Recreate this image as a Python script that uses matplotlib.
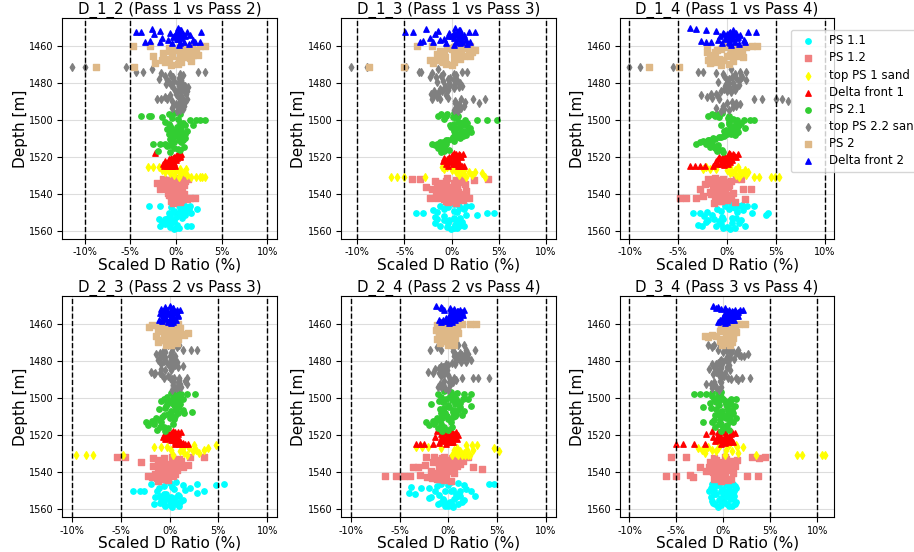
import matplotlib
matplotlib.use('Agg')
import matplotlib.pyplot as plt
from matplotlib.ticker import FuncFormatter

# Panels: pass pairs compared
pairs = ['D_1_2', 'D_1_3', 'D_1_4', 'D_2_3', 'D_2_4', 'D_3_4']
titles = ['D_1_2 (Pass 1 vs Pass 2)', 'D_1_3 (Pass 1 vs Pass 3)',
          'D_1_4 (Pass 1 vs Pass 4)', 'D_2_3 (Pass 2 vs Pass 3)',
          'D_2_4 (Pass 2 vs Pass 4)', 'D_3_4 (Pass 3 vs Pass 4)']

# ---- PS 1.1 ----
ps11_depth = [1545.6, 1546.4, 1546.4, 1546.4, 1547.2, 1548.0, 1548.8, 1549.6,
              1550.4, 1550.4, 1550.4, 1550.4, 1551.2, 1552.0, 1552.8, 1553.6,
              1553.6, 1554.4, 1555.2, 1556.0, 1556.8, 1557.3, 1557.3, 1557.3,
              1558.0, 1558.6, 1559.0,
              1546.0, 1546.8, 1547.6, 1548.4, 1549.2, 1550.0, 1551.6, 1552.4,
              1553.2, 1554.0, 1554.8, 1555.6, 1556.4, 1558.3]
ps11_ratio = {
    'D_1_2': [0.8, -3.0, -1.8, 1.5, -0.5, 2.3, 0.9, -0.3, -0.8, 0.2, 1.0, 1.6, 0.4,
              -0.6, 0.7, -1.9, -1.2, -0.4, -1.5, -0.9, 0.1, -1.7, 1.2, 1.7, -0.6, 0.3, -0.2,
              0.3, 1.0, 0.5, 1.4, -0.2, 0.6, 1.0, 0.0, -0.9, -0.8, -0.2, -0.5, -1.2, 0.0],
    'D_1_3': [0.2, -1.2, 0.8, 2.1, -0.4, 1.3, -2.0, 0.6, -3.8, -3.0, 3.7, 4.5, 2.7,
              -0.8, 0.9, -1.5, 0.3, -0.3, 1.1, -1.8, 0.4, -1.2, 0.8, 1.3, -0.5, 0.2, -0.1,
              -0.5, 1.5, 0.9, -0.8, 0.2, -1.6, 1.5, -1.8, 0.2, -0.8, 0.6, -0.4, 1.0, 0.6],
    'D_1_4': [0.4, -0.2, 1.2, 2.8, 0.6, -1.0, 1.6, -2.1, -3.5, -2.8, 2.5, 4.2, 4.0,
              -2.4, 0.9, -1.3, -0.4, 1.4, -2.2, 0.5, -3.0, -2.6, -1.1, 1.8, 0.0, -0.4, 0.3,
              1.5, 2.0, 0.8, 0.2, -0.6, 1.0, -1.5, -0.5, 0.5, -2.0, -0.8, 1.2, -0.6, 0.8],
    'D_2_3': [0.7, -1.9, 2.8, 5.6, 4.8, 0.3, -1.1, 1.6, -3.7, -3.0, -2.6, 3.5, 2.8,
              -0.6, 1.0, -1.5, 0.2, -0.4, 1.4, 0.5, -1.0, -1.6, -0.6, 0.8, 0.0, 1.0, 0.3,
              0.0, 1.4, -0.6, 2.1, 0.5, -1.3, -0.4, 0.9, -1.0, 0.6, -0.9, 0.0, 1.1, -0.5],
    'D_2_4': [0.3, -0.8, 4.2, 4.7, 1.6, -3.8, -2.8, 0.5, -1.4, 2.3, -0.3, 1.2, -4.0,
              -3.4, 2.7, -1.8, 0.8, -0.5, 1.6, 0.2, -0.9, -1.1, 0.0, 1.0, 0.4, -0.3, 0.5,
              1.0, 0.0, -1.2, -2.0, 1.8, 0.3, 0.8, -1.0, 1.2, -2.0, 0.6, -0.4, 1.4, 0.0],
    'D_3_4': [-0.4, -1.2, 0.3, 1.0, -0.7, 0.6, 1.3, -1.0, -1.5, -0.3, 0.5, 1.1, 0.0,
              -0.8, 0.8, -1.3, 0.2, 1.0, -0.5, 1.4, -1.1, -0.9, 0.4, 1.2, -0.2, 0.6, -0.6,
              0.5, -0.5, 1.2, -1.3, 0.0, 0.8, -1.0, 0.5, 1.1, -0.3, 0.7, -1.2, 0.1, 0.9],
}

# ---- PS 1.2 ----
ps12_depth = [1531.6, 1531.9, 1531.9, 1531.9, 1531.9, 1532.6, 1533.3, 1534.0,
              1534.7, 1535.4, 1536.1, 1536.8, 1537.4, 1537.4, 1537.4, 1538.2,
              1538.9, 1539.6, 1540.3, 1541.0, 1541.6, 1542.2, 1542.2, 1542.2,
              1542.2, 1542.9, 1543.6, 1544.3, 1545.0,
              1532.3, 1533.0, 1533.6, 1534.3, 1535.0, 1535.8, 1536.5, 1538.6,
              1539.2, 1540.0, 1540.6, 1541.3, 1543.2, 1544.0]
ps12_ratio = {
    'D_1_2': [0.5, -1.4, -0.3, 0.8, 1.3, -0.8, 0.2, -2.1, -1.6, 0.9, -0.6, 0.4, -1.8,
              -1.0, 0.1, -0.3, 0.7, -0.9, 0.2, -0.5, 0.8, -0.4, 0.6, 1.5, 2.1, 1.2, 0.0, 0.5, -0.3,
              -1.0, 1.0, -0.5, 0.4, -1.2, 0.2, -1.4, 0.3, -0.4, 0.9, -0.8, 0.5, 0.6, -0.5],
    'D_1_3': [-0.5, -4.2, -3.3, 1.1, 3.9, 2.4, -1.8, 0.3, 1.4, -0.9, -2.7, 0.6, -2.1,
              -1.3, -0.2, 1.5, 0.2, -0.6, 0.9, -1.2, 0.4, -2.3, -1.5, 1.1, 1.8, -0.8, 0.1, -0.4, 0.5,
              0.5, -0.6, 1.0, -1.2, 0.6, -1.6, -0.4, -0.9, 0.7, -0.3, 0.2, -1.7, 1.2, -0.6],
    'D_1_4': [-1.2, -2.0, -0.4, 0.9, 1.4, -1.6, 0.4, -0.9, -2.3, 0.2, -1.4, -0.6, -2.8,
              1.6, 2.4, -0.2, -1.8, 0.6, -1.0, -2.5, -0.4, -4.8, -4.2, -3.2, 0.4, 1.8, -0.8, 0.8, -1.3,
              -0.8, -1.4, 0.0, -1.8, -0.5, -1.0, 0.1, -0.9, -0.2, -1.6, 0.3, -1.2, 0.0, -0.6],
    'D_2_3': [0.3, -5.4, -4.6, 2.1, 3.5, -1.7, 0.6, 1.2, -2.9, -0.8, 1.9, -1.7, -1.2,
              0.2, 1.4, -0.4, 0.8, -0.9, 0.1, -1.5, -0.3, -2.2, -1.1, 0.4, -0.6, -1.8, -0.9, -0.2, -1.2,
              -0.6, 1.0, -1.2, 0.5, 0.8, -0.3, -0.8, 0.5, 0.2, -1.1, -0.5, 0.6, -1.3, -0.4],
    'D_2_4': [-1.5, -2.3, -0.4, 1.2, 2.0, 0.4, -0.9, 1.5, -1.6, 0.2, -2.4, 0.9, -3.6,
              -3.1, 2.5, 3.5, -0.3, -1.8, 0.6, -0.8, -2.9, -6.5, -5.4, -4.5, -3.9, -2.2, -1.2, -0.4, 0.3,
              -0.6, 0.9, -0.3, 0.6, -1.0, 1.2, -0.2, -1.0, 0.4, -0.5, -1.4, -0.2, -1.7, -0.8],
    'D_3_4': [0.2, -5.6, -4.0, 3.0, 4.4, 3.8, -0.8, 0.9, -1.4, 0.5, -0.3, 1.2, -2.5,
              -1.5, 0.7, -0.6, 0.3, -1.9, 1.0, -0.4, -3.6, -6.1, -5.0, 2.5, 3.7, -3.2, -1.0, 0.5, -0.2,
              -1.0, 0.3, 1.5, -0.6, 0.2, 1.0, -1.2, 0.8, -0.5, -1.1, 0.2, -0.9, -0.2, 0.8],
}

# ---- top PS 1 sand ----
top1_depth = [1525.6, 1525.6, 1525.6, 1526.4, 1526.4, 1526.4, 1527.2, 1527.2,
              1527.2, 1528.0, 1528.0, 1528.0, 1528.8, 1528.8, 1529.6, 1529.6,
              1530.7, 1530.7, 1530.7, 1530.7, 1530.7, 1530.7]
top1_ratio = {
    'D_1_2': [-3.1, -2.5, -1.9, -0.4, 0.5, 1.1, -1.5, -0.8, 0.0, -1.2, 0.3, 0.9,
              -0.6, 0.6, -0.2, 1.2, 0.3, 1.7, 2.2, 2.6, 2.9, 3.2],
    'D_1_3': [-1.0, -0.5, 0.2, -0.8, 0.4, 1.0, 0.0, 0.7, 1.3, 0.5, 1.8, 2.5,
              1.2, 3.2, 0.8, 2.2, -6.4, -5.8, -5.1, -2.8, 3.5, 1.5],
    'D_1_4': [-2.2, 0.3, 1.1, -2.5, -1.8, -1.1, 0.0, 0.8, 1.8, 0.5, 1.3, 2.1,
              0.3, 1.5, 0.9, 1.9, 2.8, 3.3, 4.5, 4.9, 5.3, 1.2],
    'D_2_3': [1.2, 2.5, 4.8, -1.6, -0.9, -0.3, 1.4, 2.0, 3.9, 0.1, 2.7, 3.5,
              1.1, 2.4, 1.5, 3.0, -9.6, -8.6, -7.8, -4.8, 0.4, 1.8],
    'D_2_4': [1.8, 2.4, 2.9, -3.3, -2.7, -2.1, -0.7, 0.9, 4.7, 0.6, 1.9, 2.5,
              1.2, 5.2, 0.8, 1.6, 0.4, 1.0, 1.4, 2.0, 2.2, 1.7],
    'D_3_4': [-0.4, 0.6, 1.4, -1.6, 1.5, 2.1, -2.7, -1.9, -0.6, -2.3, -1.2, 0.3,
              -0.8, 0.9, -2.0, 1.6, 3.5, 7.8, 8.4, 10.5, 10.8, 0.2],
}

# ---- Delta front 1 ----
df1_depth = [1517.8, 1518.3, 1518.3, 1518.8, 1519.3, 1519.8, 1520.3, 1520.8,
             1520.8, 1521.3, 1521.8, 1522.3, 1522.3, 1522.8, 1523.3, 1523.8,
             1524.3, 1524.8, 1524.8, 1524.8, 1524.8, 1524.8,
             1518.5, 1519.0, 1519.6, 1520.6, 1521.6, 1522.6, 1523.6, 1524.0]
df1_ratio = {
    'D_1_2': [-2.3, 0.3, 0.6, 0.1, 0.5, -0.2, 0.4, -0.5, 0.1, -0.8, 0.0, -1.2,
              -0.4, -0.9, -0.2, -1.4, -0.8, -1.3, -1.0, -0.7, -0.4, -0.1,
              0.4, 0.2, 0.0, -0.3, -0.6, -0.6, -0.7, -1.1],
    'D_1_3': [0.3, 0.8, 1.2, 0.0, 0.6, -0.3, 1.0, -0.8, 0.4, -0.5, 0.2, -0.9,
              0.7, -0.2, 0.5, -0.6, 0.9, 0.7, 0.9, 1.1, 1.3, -0.4,
              0.5, 0.9, 0.2, 0.6, -0.2, 0.3, 0.1, 0.4],
    'D_1_4': [0.2, 0.6, 1.1, -0.3, 0.4, -0.8, 0.9, -0.5, 0.2, -0.9, 0.5, -1.1,
              -0.2, 0.3, -0.6, -1.0, -0.3, -3.8, -3.3, -2.8, -2.3, -1.4,
              0.3, 0.7, 0.1, -0.2, 0.0, -0.5, 0.1, -0.6],
    'D_2_3': [0.4, 0.9, 1.2, -0.2, 0.5, -0.6, 0.2, -0.7, 0.8, -0.3, 0.4, -0.5,
              0.9, 0.1, 1.1, 0.6, 1.4, 1.0, 1.3, 1.6, 1.9, 0.6,
              0.6, 0.1, 0.9, 0.4, 0.0, 0.5, 0.8, 1.0],
    'D_2_4': [-1.2, -0.4, 0.8, 0.3, -0.8, 1.0, 0.0, -1.4, 0.6, -0.2, 0.4, -0.7,
              0.9, 0.1, -0.5, 0.5, -1.0, -3.3, -2.9, -2.5, -1.6, -0.2,
              0.4, -0.2, 0.6, -0.6, 0.2, -0.3, 0.3, 0.0],
    'D_3_4': [-1.2, -0.6, 0.9, 1.2, -1.8, 0.3, -0.4, 0.6, -1.1, 0.1, -0.7, 0.8,
              -0.2, 0.4, -0.9, 1.0, 0.2, -5.0, -4.3, -3.1, -2.0, -0.3,
              0.2, -0.5, 0.8, -0.6, 0.5, -0.4, 0.0, 0.6],
}

# ---- PS 2.1 ----
ps21_depth = [1496.2, 1497.0, 1497.8, 1497.8, 1497.8, 1498.6, 1499.4, 1500.2,
              1500.2, 1500.2, 1500.2, 1501.0, 1501.8, 1502.6, 1503.4, 1504.2,
              1505.0, 1505.8, 1506.6, 1507.4, 1508.2, 1509.0, 1509.8, 1510.6,
              1511.4, 1512.2, 1513.0, 1513.0, 1513.0, 1513.8, 1514.6, 1515.4,
              1516.2, 1517.0, 1517.6,
              1496.6, 1499.0, 1501.4, 1502.2, 1503.0, 1503.8, 1504.6, 1505.4,
              1506.2, 1507.0, 1507.8, 1508.6, 1509.4, 1510.2, 1511.0, 1511.8,
              1514.2, 1515.8]
ps21_ratio = {
    'D_1_2': [-0.2, 0.5, -3.8, -3.0, -2.7, -1.5, 0.2, 1.5, 2.2, 2.6, 3.2, -1.2,
              0.8, 1.9, -0.6, 0.4, -1.0, 1.2, 0.0, -0.8, 0.7, -0.3, 1.0, 0.3,
              -0.5, 0.6, -2.5, -1.8, -1.2, -0.6, 0.9, -0.2, 0.4, -2.0, -0.6,
              -0.8, -0.4, 0.4, -0.8, 1.0, 0.1, -0.5, 0.6, -0.4, 0.5, 1.0, -0.1,
              0.4, -0.6, 0.8, -0.2, -1.0, 0.2],
    'D_1_3': [0.3, -1.1, -1.4, -0.6, 0.7, 0.1, -0.8, 1.4, 2.7, 3.8, 4.8, 0.8,
              1.6, -0.2, 0.9, 1.9, 0.3, 1.2, 2.1, 0.6, 1.5, 0.1, 0.9, -0.4,
              0.2, -1.2, -2.1, -1.5, -0.6, -1.8, -0.9, -1.4, -0.3, -0.8, -1.1,
              -0.5, 0.5, 1.1, 0.3, 1.4, -0.1, 0.7, 1.7, 0.2, 1.0, 0.4, 1.2,
              0.5, 0.0, -0.6, -0.9, -1.4, -0.7],
    'D_1_4': [-0.5, -1.5, -2.0, -1.2, 0.2, -0.8, 0.6, 1.0, 1.7, 2.3, 2.8, 0.2,
              1.4, -0.6, 0.8, 1.8, 0.4, -0.3, 1.1, 0.0, 0.8, -0.8, -1.4, -1.9,
              -2.5, -2.8, -3.2, -2.2, -1.5, -0.9, -1.8, -1.2, -0.5, -1.0, -0.4,
              -1.0, 0.1, 0.9, 0.2, 1.2, 0.4, 1.0, -0.1, 0.6, 0.9, 0.4, -0.3,
              -0.6, -1.2, -2.0, -2.2, -1.4, -0.9],
    'D_2_3': [0.8, 0.2, 1.2, 1.8, 2.6, 0.5, -0.3, -0.6, 0.4, 1.0, 1.4, 0.7,
              -0.9, 0.3, 1.1, -0.4, 0.9, -1.1, 0.6, 2.3, 1.5, -0.6, 0.2, -1.4,
              0.5, -1.8, -2.4, -1.6, -0.9, 0.4, -2.2, -1.0, -0.2, -1.3, -0.5,
              0.5, 1.0, 0.0, 0.9, -0.3, 0.5, 0.9, -0.5, 1.4, 0.1, 0.9, -0.2,
              0.6, -0.8, 0.0, -1.0, -1.6, -0.6],
    'D_2_4': [-0.4, 0.9, -1.1, 1.6, 2.3, 0.2, -0.7, -0.2, 0.8, 1.5, 2.0, 0.4,
              -1.0, 1.2, -1.8, 2.3, 0.1, -0.9, 1.0, 0.5, -0.3, 1.4, 0.7, -1.2,
              0.0, -1.6, -2.3, -1.4, 0.3, -0.8, -2.0, -0.4, -1.1, 0.0, -0.6,
              0.3, 0.6, 0.9, -0.5, 0.7, 0.0, 1.2, -0.4, 0.5, 1.6, -0.8, 0.8,
              -0.1, 0.5, -0.6, -0.9, -1.5, 0.4],
    'D_3_4': [-0.6, -1.2, -3.1, -2.5, -1.8, -0.6, -0.2, -1.0, 0.0, 0.8, 1.4, -0.5,
              0.6, -1.4, 0.3, 1.2, -2.2, -0.8, 0.5, -0.3, 1.0, -0.9, 0.2, 1.3,
              -0.4, 0.7, -2.2, -1.2, 1.0, -0.5, 0.4, -0.9, 0.0, 0.6, -0.2,
              -0.3, -1.2, 0.2, -0.8, 0.8, -0.5, 0.4, -1.3, 0.9, -0.1, 0.5, -0.5,
              0.7, -0.2, 0.3, -1.0, -0.2, 0.3],
}

# ---- top PS 2.2 sand ----
top22_depth = [1471.2, 1471.2, 1471.2, 1473.9, 1473.9, 1473.9, 1473.9, 1474.6,
               1475.4, 1476.2, 1477.0, 1477.8, 1478.6, 1479.4, 1480.2, 1481.0,
               1481.8, 1482.6, 1483.4, 1484.2, 1485.0, 1485.8, 1486.6, 1487.4,
               1488.2, 1488.9, 1488.9, 1488.9, 1488.9, 1488.9, 1489.8, 1490.6,
               1491.4, 1492.2, 1493.0, 1493.8, 1494.6, 1495.4,
               1472.6, 1475.0, 1475.8, 1476.6, 1477.4, 1478.2, 1479.0, 1479.8,
               1480.6, 1481.4, 1482.2, 1483.0, 1483.8, 1484.6, 1486.2, 1487.0,
               1490.2, 1491.0, 1492.6, 1494.2]
top22_ratio = {
    'D_1_2': [-11.4, -10.0, -5.5, -4.4, -3.6, 2.4, 3.2, -1.6, 0.4, -1.2, -0.3, -1.9,
              0.6, -0.8, 0.2, -0.5, 1.0, 0.4, -0.2, 0.9, 0.1, 1.1, -0.6, -1.2,
              0.3, -2.1, -1.6, -1.0, 0.8, 1.2, -0.4, 0.6, 0.0, 0.9, 0.3, -0.4, 0.5, 0.1,
              -2.6, -0.6, 0.8, -0.4, 0.3, -1.0, -0.2, 0.7, -1.1, 0.3, 1.3, 0.7,
              0.4, 1.2, 0.0, 0.6, 1.0, 0.3, -0.3, 0.8],
    'D_1_3': [-10.7, -9.0, -4.8, -3.5, -3.2, 1.1, 1.6, -2.1, 0.2, -1.1, -2.3, -0.4,
              0.6, -1.5, 0.9, -0.2, 1.1, 0.3, -0.8, -1.9, -1.3, -2.2, -0.6, -1.6,
              -0.4, -2.1, -1.2, 1.0, 2.3, 3.5, 0.4, 2.9, 0.8, 1.3, 0.5, 1.0, 0.2, 0.7,
              -1.4, -0.9, 0.5, -1.7, -0.2, 0.3, -0.9, -0.3, 0.4, -0.7, 0.8, -1.2,
              -0.4, -1.0, -1.5, -2.0, 1.4, 0.4, 0.9, 0.5],
    'D_1_4': [-10.0, -8.9, -5.5, -3.0, -2.5, 1.3, 1.9, -1.1, 0.8, -0.3, 1.5, 0.2,
              1.9, -0.9, 0.6, 1.2, -0.2, 0.9, 0.3, -0.6, 0.4, -1.1, -2.7, -2.1,
              -1.5, -0.8, 2.8, 3.6, 5.0, 5.6, 6.2, 0.9, 1.3, -0.4, 0.6, -1.1, 0.2, -0.6,
              0.4, -0.4, 1.4, 0.5, 0.9, 0.0, 1.2, 0.2, -0.1, 0.7, 0.2, -0.3,
              0.8, 0.0, -1.6, -0.9, 0.5, 0.0, 0.9, -0.3],
    'D_2_3': [-0.2, 0.5, 1.0, -0.6, 1.4, 2.2, 2.8, 0.3, -1.0, -1.4, 0.6, -0.5,
              0.2, -1.2, 0.8, -0.3, 0.4, 1.4, 0.9, -0.9, 0.2, -1.9, -1.5, -0.8,
              -0.2, -0.6, 0.0, 0.5, 1.0, 1.8, 0.3, 1.6, 0.9, 1.8, 0.4, 1.2, 0.7, 0.3,
              0.8, -0.5, 0.2, -0.8, 0.0, -1.0, 0.5, -0.6, 0.2, -0.9, 0.6, 0.0,
              0.3, -0.5, -1.0, -1.6, 1.0, 0.4, 1.1, 0.9],
    'D_2_4': [0.3, 1.0, 1.6, -1.9, -0.8, 1.8, 2.7, 0.5, 1.2, 2.0, 0.6, 1.6,
              0.9, 2.3, 1.3, 0.4, -0.2, -0.8, -0.3, -1.4, -0.6, -2.1, -1.0, 0.0,
              -0.7, 0.6, 1.4, 2.5, 3.0, 4.2, 0.2, -0.4, 0.5, -0.9, 0.2, -1.1, -0.3, 0.0,
              -1.2, 0.6, 1.8, 1.4, 0.9, 2.0, 1.3, 0.8, 1.8, 0.7, 0.0, -0.5,
              -1.0, -0.1, -1.6, -0.4, 0.8, 0.1, -0.5, -0.7],
    'D_3_4': [-1.6, -1.0, -0.4, -0.6, 0.3, 0.9, 1.6, 0.6, 1.3, 2.6, 1.9, 0.4,
              1.1, -0.2, 0.5, -0.6, -1.2, -0.3, 0.4, -1.5, 0.7, -0.8, 0.2, -0.5,
              0.1, 0.5, 1.4, 2.0, 2.8, -0.2, 0.8, -0.4, -1.0, -1.8, -0.9, -0.3, -1.2, -0.5,
              -1.2, 0.0, 0.8, 1.7, 2.2, 0.7, 0.3, -0.4, 0.0, -0.8, 0.6, -1.0,
              -0.2, -0.7, -0.3, -1.1, 1.6, -0.3, -1.3, -0.8],
}

# ---- PS 2 ----
ps2_depth = [1459.9, 1459.9, 1459.9, 1459.9, 1460.6, 1461.3, 1462.0, 1462.6,
             1463.2, 1463.8, 1464.4, 1465.0, 1465.6, 1466.2, 1466.8, 1467.4,
             1468.0, 1468.6, 1469.2, 1469.8, 1470.4, 1471.2, 1471.2,
             1460.3, 1461.0, 1461.7, 1462.3, 1463.5, 1464.7, 1465.3, 1466.5,
             1467.7, 1468.9]
ps2_ratio = {
    'D_1_2': [-4.7, -2.8, 2.6, 3.2, 1.8, 0.8, 2.2, -0.6, 1.4, -1.4, 0.5, 2.4,
              -2.5, 1.0, -0.8, 0.3, 1.6, -1.2, -2.3, 0.2, -0.5, -8.8, -4.6,
              0.4, -0.8, 1.2, 0.0, 0.8, 1.9, -0.4, 1.5, -1.5, 0.6],
    'D_1_3': [-3.7, -2.1, 0.8, 1.9, 1.2, -0.5, 2.5, -1.2, 0.6, 1.8, -1.6, 0.2,
              2.0, -0.7, 0.9, -2.3, -1.0, 0.3, -2.0, -0.6, 0.0, -8.8, -5.1,
              0.2, 1.6, 0.0, 1.0, 2.2, -0.8, 1.3, 0.4, -1.5, -0.9],
    'D_1_4': [-2.1, -0.4, 2.6, 3.1, 1.9, 0.9, -1.0, 1.5, -2.1, 0.4, 1.2, -1.5,
              0.0, 1.6, -0.8, -2.0, 0.6, -1.2, -1.8, 0.2, -0.6, -8.0, -4.9,
              0.0, 1.4, -0.6, 0.6, -1.2, 0.3, 1.0, -1.8, -0.4, -1.6],
    'D_2_3': [-1.0, -0.3, 0.4, 0.9, -1.8, -2.1, 1.1, -0.5, 0.3, -1.2, 0.7, 1.9,
              1.5, -1.4, 0.2, -0.6, 0.9, -1.0, 0.5, -1.2, 0.8, -0.4, 0.2,
              0.1, -1.2, -0.8, 0.6, -0.6, 0.3, 1.2, -0.3, 0.3, -0.4],
    'D_2_4': [0.6, 1.4, 2.2, 2.8, -1.2, 0.4, -0.8, 0.9, -1.3, 0.1, -0.5, 1.0,
              -1.0, 0.3, -0.3, 0.7, -1.2, 0.5, -0.6, 0.2, -0.9, 0.0, 0.6,
              -0.6, 0.9, -0.2, 0.3, -0.7, 0.6, 0.4, -1.0, 0.0, -0.8],
    'D_3_4': [0.4, 1.0, 1.7, 2.3, 0.6, -0.3, 1.2, 0.1, 0.9, -0.4, 1.4, 0.5,
              -1.2, -2.0, -1.6, 1.0, -0.2, 0.6, -0.4, 0.9, 0.2, -0.1, 0.7,
              1.2, 0.3, 0.8, -0.2, 0.4, 1.0, 0.3, -0.8, 0.4, 0.0],
}

# ---- Delta front 2 ----
df2_depth = [1450.4, 1450.9, 1451.4, 1451.9, 1452.2, 1452.2, 1452.2, 1452.2,
             1452.7, 1453.2, 1453.7, 1454.2, 1454.7, 1455.2, 1455.7, 1456.2,
             1456.7, 1457.2, 1457.6, 1457.6, 1457.6, 1457.6, 1458.1, 1458.6,
             1459.0, 1459.4,
             1451.1, 1452.9, 1453.5, 1454.0, 1454.5, 1455.0, 1455.5, 1456.0,
             1456.5, 1458.4]
df2_ratio = {
    'D_1_2': [0.2, -2.6, 0.6, -1.8, -4.4, -3.8, 1.2, 2.8, -0.6, 0.3, -2.4, 1.5, -0.2,
              0.5, -1.5, 0.1, 1.9, -2.8, -3.4, -1.8, 2.1, 2.6, 0.9, -0.4, 1.4, 0.3,
              0.5, 0.0, 0.8, 0.3, 1.0, -0.3, 0.6, 0.2, -0.9, 0.4],
    'D_1_3': [0.4, -2.7, 0.9, -1.4, -4.9, -4.1, 1.8, 2.5, -0.3, 0.6, -1.8, 1.3, 0.0,
              0.9, -2.3, -0.8, 1.5, -3.0, -3.4, -2.0, 0.5, 1.9, 1.1, -0.6, 1.6, 0.2,
              0.8, 0.2, 1.0, 0.5, -0.4, 1.2, 0.3, 0.7, -1.2, 0.9],
    'D_1_4': [-3.8, -3.2, -2.2, -1.1, 0.3, 0.7, 2.1, 3.0, -0.4, 0.9, 0.0, 1.3, -0.7,
              0.5, 1.0, -0.2, 1.7, -2.7, -2.2, -1.6, 0.2, 1.8, 0.8, -0.5, 1.2, 0.4,
              0.6, 0.2, -0.3, 0.8, 0.4, 1.1, 0.1, 0.6, -0.9, 0.3],
    'D_2_3': [0.0, -0.5, 0.4, -0.9, -0.3, 0.2, 0.8, 1.1, -0.6, 0.3, -1.0, 0.6, -0.2,
              0.9, -0.7, 0.1, 0.5, -0.4, -1.1, 0.0, 0.7, 0.3, -0.8, 0.4, -0.2, 0.1,
              0.4, -0.3, 0.6, 0.0, -0.8, 0.3, 0.9, -0.5, 0.2, -0.1],
    'D_2_4': [-1.3, -0.8, 0.2, 0.6, -0.4, 0.3, 1.2, 1.6, 0.9, 1.4, 0.5, 1.1, 0.2,
              1.5, 0.8, 0.4, 1.0, 0.1, -1.0, -0.5, 0.3, 0.7, -0.2, 0.4, -0.7, 0.1,
              -0.6, 1.0, 0.6, 1.3, 0.3, 0.9, 0.6, 1.2, -0.2, 0.0],
    'D_3_4': [-1.1, -0.6, 0.2, -0.3, 0.6, 1.2, 1.8, 2.1, 0.4, 1.0, 1.5, 0.2, 0.9,
              0.5, 1.3, 0.0, 0.7, 0.3, -0.4, 0.1, 0.8, 1.1, -0.3, 0.4, -0.6, 0.2,
              -0.8, 0.9, 1.6, 0.6, 1.1, 0.3, 1.6, 0.8, 0.0, -0.1],
}

# zone name, depths, ratios, colour, marker (plotted bottom zone first)
zones = [
    ('PS 1.1', ps11_depth, ps11_ratio, 'cyan', 'o'),
    ('PS 1.2', ps12_depth, ps12_ratio, 'lightcoral', 's'),
    ('top PS 1 sand', top1_depth, top1_ratio, 'yellow', 'd'),
    ('Delta front 1', df1_depth, df1_ratio, 'red', '^'),
    ('PS 2.1', ps21_depth, ps21_ratio, 'limegreen', 'o'),
    ('top PS 2.2 sand', top22_depth, top22_ratio, 'grey', 'd'),
    ('PS 2', ps2_depth, ps2_ratio, 'burlywood', 's'),
    ('Delta front 2', df2_depth, df2_ratio, 'blue', '^'),
]

fig, axes = plt.subplots(2, 3, figsize=(9.14, 5.52), dpi=100)
fig.subplots_adjust(left=0.068, right=0.913, bottom=0.063, top=0.967,
                    wspace=0.298, hspace=0.26)

pct = FuncFormatter(lambda v, p: '%d%%' % v)

for ax, pair, title in zip(axes.flat, pairs, titles):
    for name, depth, ratio, col, mk in zones:
        ax.scatter(ratio[pair], depth, c=col, marker=mk, s=15, label=name)
    for xv in [-10, -5, 5, 10]:
        ax.axvline(xv, color='black', linestyle='--', linewidth=1)
    ax.invert_yaxis()
    ax.set_yticks([1460, 1480, 1500, 1520, 1540, 1560])
    ax.set_xticks([-10, -5, 0, 5, 10])
    ax.xaxis.set_major_formatter(pct)
    ax.tick_params(labelsize=7, pad=2.5)
    ax.grid(True, color='#dddddd')
    ax.set_axisbelow(True)
    ax.set_title(title, fontsize=10.8, pad=0)
    ax.set_xlabel('Scaled D Ratio (%)', fontsize=11, labelpad=0)
    ax.set_ylabel('Depth [m]', fontsize=11, labelpad=1)

axes[0, 2].legend(loc='upper left', bbox_to_anchor=(0.77, 0.975),
                  fontsize=8.5, labelspacing=0.35, scatterpoints=1)

plt.savefig('out.png')
